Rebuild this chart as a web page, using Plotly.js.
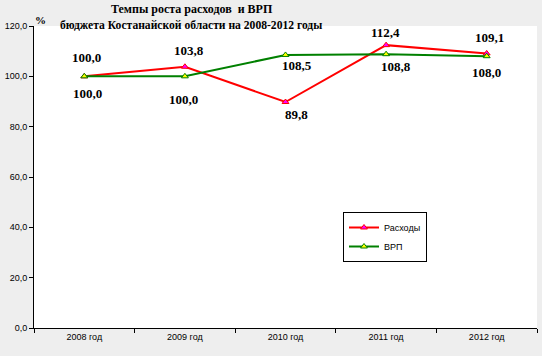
<!DOCTYPE html>
<html><head><meta charset="utf-8">
<script src="https://cdn.plot.ly/plotly-3.0.1.min.js"></script>
<style>body{margin:0;padding:0;}#chart{width:542px;height:356px;}</style>
</head><body><div id="chart"></div>
<script>
const categories = ["2008 год","2009 год","2010 год","2011 год","2012 год"];
const rashody = [100.0, 103.8, 89.8, 112.4, 109.1];
const vrp = [100.0, 100.0, 108.5, 108.8, 108.0];
const seriesNames = ["Расходы", "ВРП"];

// label placement (pixel offsets from each point)
const redShift = [[2, 19], [4, 16], [11, -12], [-1, 13], [3, 16]];
const greenShift = [[3, -17], [-1, -23], [11, -11], [10, -12], [0, -16]];

const fmt = v => v.toFixed(1).replace('.', ',');
const labelFont = {family: "Liberation Serif, Times New Roman, serif", size: 13, color: "#000"};
const traces = [
  {x: categories, y: rashody, name: seriesNames[0], mode: "lines+markers",
   line: {color: "#ff0000", width: 2},
   marker: {symbol: "triangle-up", size: 6, color: "#ff00ff", line: {color: "#ff0000", width: 1}}},
  {x: categories, y: vrp, name: seriesNames[1], mode: "lines+markers",
   line: {color: "#008000", width: 2},
   marker: {symbol: "triangle-up", size: 6, color: "#ffff00", line: {color: "#008000", width: 1}}}
];
const dataLabels = [];
rashody.forEach((v, i) => dataLabels.push({x: categories[i], y: v, xref: "x", yref: "y",
  text: "<b>" + fmt(v) + "</b>", showarrow: false, xshift: redShift[i][0], yshift: redShift[i][1],
  font: labelFont}));
vrp.forEach((v, i) => dataLabels.push({x: categories[i], y: v, xref: "x", yref: "y",
  text: "<b>" + fmt(v) + "</b>", showarrow: false, xshift: greenShift[i][0], yshift: greenShift[i][1],
  font: labelFont}));

const T = 26, B = 28, L = 34, R = 5, H = 356;
const ph = H - T - B;
const titleFont = {family: "Liberation Serif, Times New Roman, serif", size: 12, color: "#000"};
const layout = {
  width: 542, height: 356,
  margin: {l: L, r: R, t: T, b: B},
  paper_bgcolor: "#eeeeee", plot_bgcolor: "#ffffff",
  separators: ", ",
  showlegend: true,
  legend: {x: (343-L)/503, y: (H-B-212)/ph, xanchor: "left", yanchor: "top", bgcolor: "#ffffff",
    bordercolor: "#000", borderwidth: 1, font: {family: "Liberation Sans, Arial, sans-serif", size: 9, color: "#000"},
    tracegroupgap: 0, itemwidth: 30},
  xaxis: {type: "category", range: [-0.5, 4.5], showline: true, linecolor: "#000", linewidth: 1,
    ticks: "outside", tickson: "boundaries", ticklen: 4, tickcolor: "#000", showgrid: false, zeroline: false,
    tickfont: {family: "Liberation Sans, Arial, sans-serif", size: 9, color: "#000"}},
  yaxis: {range: [0, 120], dtick: 20, tickformat: ".1f", showline: true, linecolor: "#000", linewidth: 1,
    ticks: "outside", ticklen: 4, tickcolor: "#000", showgrid: false, zeroline: false,
    tickfont: {family: "Liberation Sans, Arial, sans-serif", size: 9, color: "#000"}},
  annotations: dataLabels.concat([
    {text: "<b>Темпы роста расходов  и ВРП</b>", xref: "paper", yref: "paper", x: (192-L)/503, y: 1 + (T-9)/ph,
     xanchor: "center", yanchor: "middle", showarrow: false, font: titleFont},
    {text: "<b>бюджета Костанайской области на 2008-2012 годы</b>", xref: "paper", yref: "paper", x: (191-L)/503, y: 1 + (T-25)/ph,
     xanchor: "center", yanchor: "middle", showarrow: false, font: {family: titleFont.family, size: 11.6, color: "#000"}},
    {text: "<b>%</b>", xref: "paper", yref: "paper", x: (40-L)/503, y: 1 + (T-20)/ph,
     xanchor: "center", yanchor: "middle", showarrow: false,
     font: {family: "Liberation Serif, Times New Roman, serif", size: 11, color: "#000"}}
  ])
};
Plotly.newPlot("chart", traces, layout, {displayModeBar: false, staticPlot: true});
</script></body></html>
